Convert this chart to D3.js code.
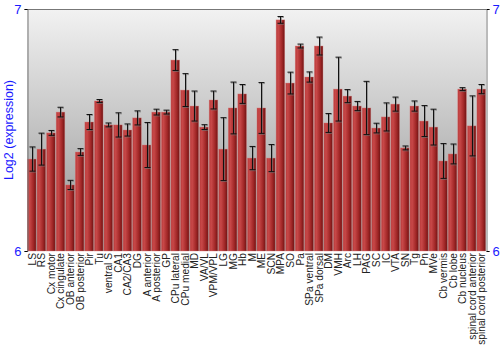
<!DOCTYPE html>
<html>
<head>
<meta charset="utf-8">
<script src="https://cdn.jsdelivr.net/npm/d3@7"></script>
<style>
html,body{margin:0;padding:0;background:#fff;}
svg{display:block;}
text{font-family:"Liberation Sans",Arial,sans-serif;}
</style>
</head>
<body>
<svg id="chart" width="500" height="350"></svg>
<script>
const categories = ["LS","RS","Cx motor","Cx cingulate","OB anterior","OB posterior","Pir","Tu","ventral S","CA1","CA2/CA3","DG","A anterior","A posterior","GP","CPu lateral","CPu medial","MD","VA/VL","VPM/VPL","LG","MG","Hb","M","ME","SCN","MPA","SO","Pa","SPa ventral","SPa dorsal","DM","VMH","Arc","LH","PAG","SC","IC","VTA","SN","Tg","Pn","MVe","Cb vermis","Cb lobe","Cb nucleus","spinal cord anterior","spinal cord posterior"];
const values = [6.380,6.421,6.488,6.574,6.273,6.409,6.533,6.620,6.521,6.521,6.500,6.550,6.438,6.574,6.574,6.789,6.665,6.599,6.512,6.624,6.421,6.591,6.649,6.384,6.591,6.384,6.955,6.694,6.847,6.719,6.847,6.529,6.669,6.640,6.599,6.591,6.508,6.554,6.607,6.426,6.599,6.537,6.512,6.372,6.401,6.669,6.517,6.669];
const errors = [0.050,0.066,0.010,0.020,0.019,0.014,0.031,0.006,0.008,0.050,0.025,0.029,0.093,0.012,0.008,0.043,0.068,0.062,0.010,0.037,0.130,0.107,0.039,0.048,0.105,0.056,0.014,0.045,0.008,0.021,0.037,0.039,0.132,0.027,0.019,0.110,0.020,0.058,0.029,0.008,0.021,0.064,0.074,0.072,0.041,0.006,0.124,0.019];
const yTicks = [6, 7];
const yLabel = "Log2 (expression)";

const svg = d3.select("#chart");
const L = 27, R = 486, T = 9, B = 251;

const defs = svg.append("defs");
const bg = defs.append("linearGradient").attr("id","bg").attr("x1",0).attr("y1",0).attr("x2",0).attr("y2",1);
bg.append("stop").attr("offset","0%").attr("stop-color","#f2f2f2");
bg.append("stop").attr("offset","100%").attr("stop-color","#929292");
const bar = defs.append("linearGradient").attr("id","bar").attr("x1",0).attr("y1",0).attr("x2",1).attr("y2",0);
bar.append("stop").attr("offset","0%").attr("stop-color","#b83a3a");
bar.append("stop").attr("offset","25%").attr("stop-color","#c84848");
bar.append("stop").attr("offset","70%").attr("stop-color","#a02626");
bar.append("stop").attr("offset","100%").attr("stop-color","#6e1414");

const x = d3.scaleBand().domain(categories).range([L, R]).paddingInner(0.1).paddingOuter(0.05);
const y = d3.scaleLinear().domain([6, 7]).range([B, T]);

svg.append("rect").attr("x",L).attr("y",T).attr("width",R-L).attr("height",B-T).attr("fill","url(#bg)");

const data = categories.map((c,i)=>({c, v:values[i], e:errors[i]}));

svg.append("g").selectAll("rect").data(data).join("rect")
  .attr("x", d=>x(d.c)).attr("y", d=>y(d.v))
  .attr("width", x.bandwidth()).attr("height", d=>y(6)-y(d.v))
  .attr("fill","url(#bar)").attr("stroke","#d87a7a").attr("stroke-width",0.6).attr("stroke-opacity",0.6);

// error bars: shadow then black
const eg = svg.append("g");
data.forEach(d=>{
  const cx = Math.round(x(d.c) + x.bandwidth()/2) + 0.5;
  const y1 = y(d.v + d.e), y2 = y(d.v - d.e);
  const g = eg.append("g");
  g.append("line").attr("x1",cx+1).attr("x2",cx+1).attr("y1",y1+1).attr("y2",y2+1).attr("stroke","#777").attr("stroke-opacity",0.6).attr("stroke-width",1);
  [y1,y2].forEach(yy=>{
    g.append("line").attr("x1",cx-2.5).attr("x2",cx+3.5).attr("y1",yy+1).attr("y2",yy+1).attr("stroke","#777").attr("stroke-opacity",0.6);
  });
  g.append("line").attr("x1",cx).attr("x2",cx).attr("y1",y1).attr("y2",y2).attr("stroke","#111").attr("stroke-width",1);
  [y1,y2].forEach(yy=>{
    g.append("line").attr("x1",cx-3).attr("x2",cx+3).attr("y1",yy).attr("y2",yy).attr("stroke","#111");
  });
});

// frame lines
svg.append("line").attr("x1",L).attr("x2",R).attr("y1",T+0.5).attr("y2",T+0.5).attr("stroke","#777");

// left axis
const la = svg.append("g").attr("transform",`translate(${L+0.5},0)`)
  .call(d3.axisLeft(y).tickValues(yTicks).tickSize(3).tickFormat(d3.format("d")));
la.select(".domain").attr("stroke","#777");
la.selectAll(".tick line").attr("stroke","#000");
la.selectAll("text").attr("fill","#1a1aff").attr("font-size",13).attr("font-family","Liberation Sans, Arial, sans-serif");

const ra = svg.append("g").attr("transform",`translate(${R+0.5},0)`)
  .call(d3.axisRight(y).tickValues(yTicks).tickSize(3).tickFormat(d3.format("d")));
ra.select(".domain").attr("stroke","#777");
ra.selectAll(".tick line").attr("stroke","#000");
ra.selectAll("text").attr("fill","#1a1aff").attr("font-size",13).attr("font-family","Liberation Sans, Arial, sans-serif");

// x labels
svg.append("g").selectAll("text").data(categories).join("text")
  .attr("transform", d=>`translate(${x(d)+x.bandwidth()/2+4},${B+2}) rotate(-90)`)
  .attr("text-anchor","end").attr("font-size",10.2).attr("fill","#222").text(d=>d);

svg.append("text").attr("transform",`translate(13,${(T+B)/2}) rotate(-90)`)
  .attr("text-anchor","middle").attr("font-size",12.5).attr("fill","#1a1aff").text(yLabel);
</script>
</body>
</html>
